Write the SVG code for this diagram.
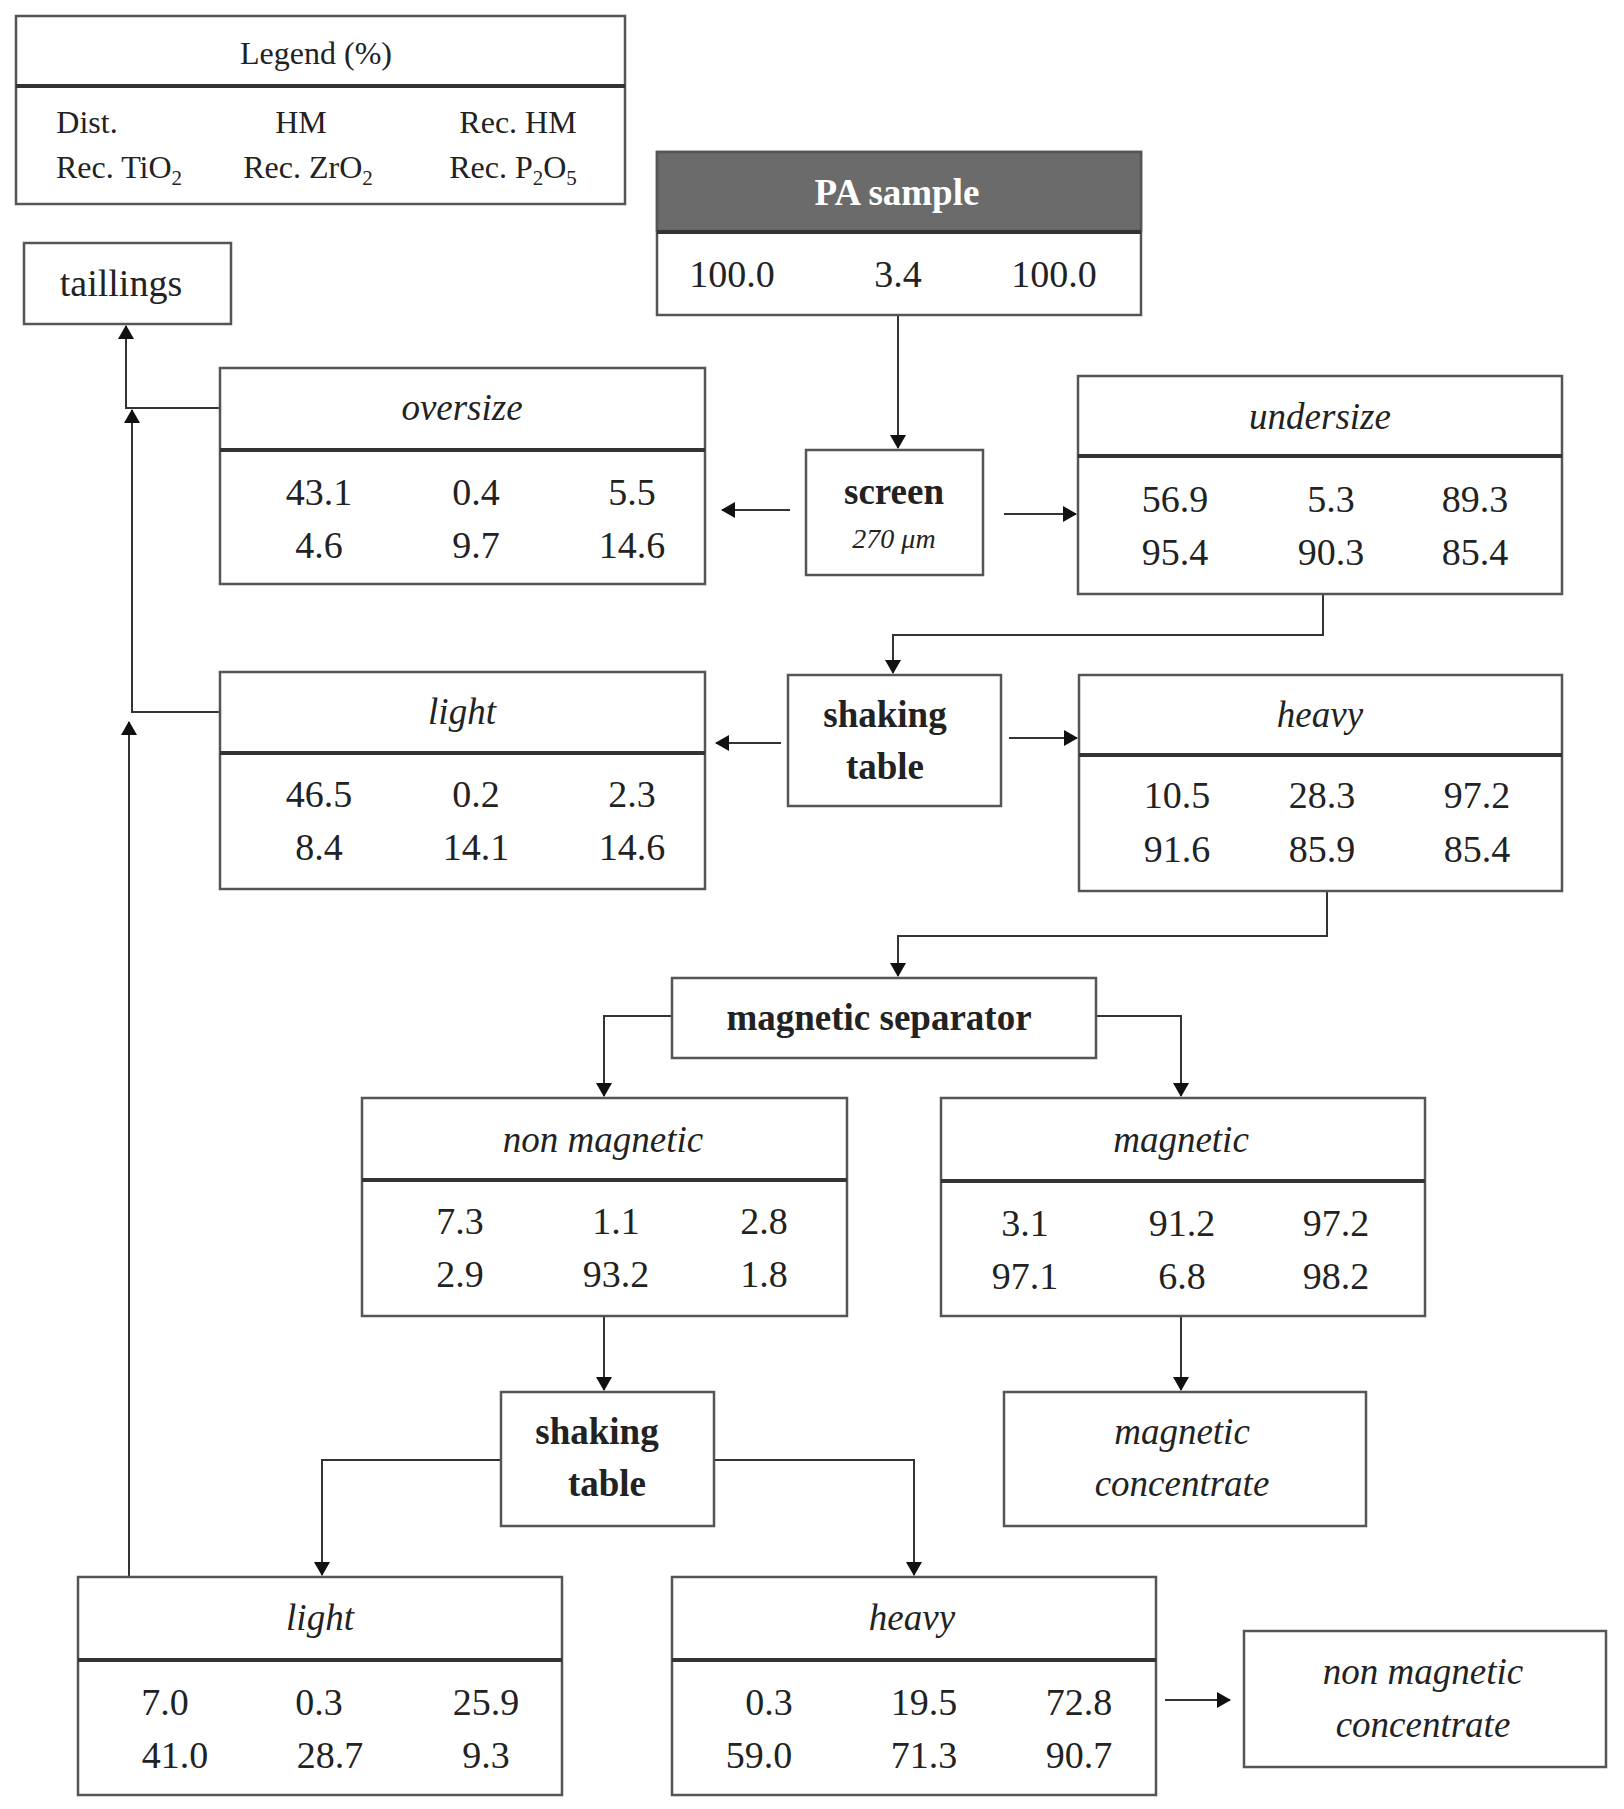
<svg xmlns="http://www.w3.org/2000/svg" width="1624" height="1809" viewBox="0 0 1624 1809" font-family="Liberation Serif, DejaVu Serif, serif">
<defs>
<marker id="ah" markerWidth="14" markerHeight="16" refX="13" refY="8" orient="auto" markerUnits="userSpaceOnUse" viewBox="0 0 14 16"><path d="M0,0 L14,8 L0,16 z" fill="#111"/></marker>
<style>
rect{fill:#fff;stroke:#555;stroke-width:2.5}
.div{stroke:#333;stroke-width:4}
text{font-family:'Liberation Serif','DejaVu Serif',serif;fill:#222;text-anchor:middle}
.v{font-size:38px}
.t{font-size:37px;font-style:italic}
.b{font-size:37px;font-weight:bold}
.l{font-size:32px}
.c path{fill:none;stroke:#333;stroke-width:2}
</style>
</defs>
<g class="c">
<path d="M898,315 V448" marker-end="url(#ah)"/>
<path d="M790,510 H722" marker-end="url(#ah)"/>
<path d="M1004,514 H1076" marker-end="url(#ah)"/>
<path d="M1323,594 V635 H893 V673" marker-end="url(#ah)"/>
<path d="M781,743 H716" marker-end="url(#ah)"/>
<path d="M1009,738 H1077" marker-end="url(#ah)"/>
<path d="M1327,891 V936 H898 V976" marker-end="url(#ah)"/>
<path d="M672,1016 H604 V1096" marker-end="url(#ah)"/>
<path d="M1096,1016 H1181 V1096" marker-end="url(#ah)"/>
<path d="M604,1316 V1390" marker-end="url(#ah)"/>
<path d="M1181,1316 V1390" marker-end="url(#ah)"/>
<path d="M501,1460 H322 V1575" marker-end="url(#ah)"/>
<path d="M714,1460 H914 V1575" marker-end="url(#ah)"/>
<path d="M1165,1700 H1230" marker-end="url(#ah)"/>
<path d="M129,1577 V722" marker-end="url(#ah)"/>
<path d="M220,712 H132 V410" marker-end="url(#ah)"/>
<path d="M220,408 H126 V326" marker-end="url(#ah)"/>
</g>
<g id="legend">
<rect x="16" y="16" width="609" height="188"/>
<line class="div" x1="16" y1="86" x2="625" y2="86"/>
<text class="l" x="316" y="64">Legend (%)</text>
<text class="l" x="87" y="133">Dist.</text>
<text class="l" x="301" y="133">HM</text>
<text class="l" x="518" y="133">Rec. HM</text>
<text class="l" x="119" y="178">Rec. TiO<tspan font-size="21" dy="7">2</tspan></text>
<text class="l" x="308" y="178">Rec. ZrO<tspan font-size="21" dy="7">2</tspan></text>
<text class="l" x="513" y="178">Rec. P<tspan font-size="21" dy="7">2</tspan><tspan dy="-7">O</tspan><tspan font-size="21" dy="7">5</tspan></text>
</g>
<g id="tailings"><rect x="24" y="243" width="207" height="81"/><text class="v" x="121" y="296">taillings</text></g>
<g id="pa">
<rect x="657" y="152" width="484" height="163"/>
<rect x="657" y="152" width="484" height="79" style="fill:#6b6b6b"/>
<line class="div" x1="657" y1="232" x2="1141" y2="232"/>
<text class="b" x="897" y="205" style="fill:#fff">PA sample</text>
<text class="v" x="732" y="287">100.0</text><text class="v" x="898" y="287">3.4</text><text class="v" x="1054" y="287">100.0</text>
</g>
<g id="oversize">
<rect x="220" y="368" width="485" height="216"/><line class="div" x1="220" y1="450" x2="705" y2="450"/>
<text class="t" x="462" y="420">oversize</text>
<text class="v" x="319" y="505">43.1</text><text class="v" x="476" y="505">0.4</text><text class="v" x="632" y="505">5.5</text>
<text class="v" x="319" y="558">4.6</text><text class="v" x="476" y="558">9.7</text><text class="v" x="632" y="558">14.6</text>
</g>
<g id="screen">
<rect x="806" y="450" width="177" height="125"/>
<text class="b" x="894" y="504">screen</text>
<text x="894" y="548" style="font-size:28px;font-style:italic">270 μm</text>
</g>
<g id="undersize">
<rect x="1078" y="376" width="484" height="218"/><line class="div" x1="1078" y1="456" x2="1562" y2="456"/>
<text class="t" x="1320" y="429">undersize</text>
<text class="v" x="1175" y="512">56.9</text><text class="v" x="1331" y="512">5.3</text><text class="v" x="1475" y="512">89.3</text>
<text class="v" x="1175" y="565">95.4</text><text class="v" x="1331" y="565">90.3</text><text class="v" x="1475" y="565">85.4</text>
</g>
<g id="shaking1">
<rect x="788" y="675" width="213" height="131"/>
<text class="b" x="885" y="727">shaking</text><text class="b" x="885" y="779">table</text>
</g>
<g id="light1">
<rect x="220" y="672" width="485" height="217"/><line class="div" x1="220" y1="753" x2="705" y2="753"/>
<text class="t" x="462" y="724">light</text>
<text class="v" x="319" y="807">46.5</text><text class="v" x="476" y="807">0.2</text><text class="v" x="632" y="807">2.3</text>
<text class="v" x="319" y="860">8.4</text><text class="v" x="476" y="860">14.1</text><text class="v" x="632" y="860">14.6</text>
</g>
<g id="heavy1">
<rect x="1079" y="675" width="483" height="216"/><line class="div" x1="1079" y1="755" x2="1562" y2="755"/>
<text class="t" x="1320" y="727">heavy</text>
<text class="v" x="1177" y="808">10.5</text><text class="v" x="1322" y="808">28.3</text><text class="v" x="1477" y="808">97.2</text>
<text class="v" x="1177" y="862">91.6</text><text class="v" x="1322" y="862">85.9</text><text class="v" x="1477" y="862">85.4</text>
</g>
<g id="magsep"><rect x="672" y="978" width="424" height="80"/><text class="b" x="879" y="1030">magnetic separator</text></g>
<g id="nonmag">
<rect x="362" y="1098" width="485" height="218"/><line class="div" x1="362" y1="1180" x2="847" y2="1180"/>
<text class="t" x="603" y="1152">non magnetic</text>
<text class="v" x="460" y="1234">7.3</text><text class="v" x="616" y="1234">1.1</text><text class="v" x="764" y="1234">2.8</text>
<text class="v" x="460" y="1287">2.9</text><text class="v" x="616" y="1287">93.2</text><text class="v" x="764" y="1287">1.8</text>
</g>
<g id="mag">
<rect x="941" y="1098" width="484" height="218"/><line class="div" x1="941" y1="1181" x2="1425" y2="1181"/>
<text class="t" x="1181" y="1152">magnetic</text>
<text class="v" x="1025" y="1236">3.1</text><text class="v" x="1182" y="1236">91.2</text><text class="v" x="1336" y="1236">97.2</text>
<text class="v" x="1025" y="1289">97.1</text><text class="v" x="1182" y="1289">6.8</text><text class="v" x="1336" y="1289">98.2</text>
</g>
<g id="shaking2">
<rect x="501" y="1392" width="213" height="134"/>
<text class="b" x="597" y="1444">shaking</text><text class="b" x="607" y="1496">table</text>
</g>
<g id="magconc">
<rect x="1004" y="1392" width="362" height="134"/>
<text class="t" x="1182" y="1444">magnetic</text><text class="t" x="1182" y="1496">concentrate</text>
</g>
<g id="light2">
<rect x="78" y="1577" width="484" height="218"/><line class="div" x1="78" y1="1660" x2="562" y2="1660"/>
<text class="t" x="320" y="1630">light</text>
<text class="v" x="165" y="1715">7.0</text><text class="v" x="319" y="1715">0.3</text><text class="v" x="486" y="1715">25.9</text>
<text class="v" x="175" y="1768">41.0</text><text class="v" x="330" y="1768">28.7</text><text class="v" x="486" y="1768">9.3</text>
</g>
<g id="heavy2">
<rect x="672" y="1577" width="484" height="218"/><line class="div" x1="672" y1="1660" x2="1156" y2="1660"/>
<text class="t" x="912" y="1630">heavy</text>
<text class="v" x="769" y="1715">0.3</text><text class="v" x="924" y="1715">19.5</text><text class="v" x="1079" y="1715">72.8</text>
<text class="v" x="759" y="1768">59.0</text><text class="v" x="924" y="1768">71.3</text><text class="v" x="1079" y="1768">90.7</text>
</g>
<g id="nonmagconc">
<rect x="1244" y="1631" width="362" height="136"/>
<text class="t" x="1423" y="1684">non magnetic</text><text class="t" x="1423" y="1737">concentrate</text>
</g>
</svg>
